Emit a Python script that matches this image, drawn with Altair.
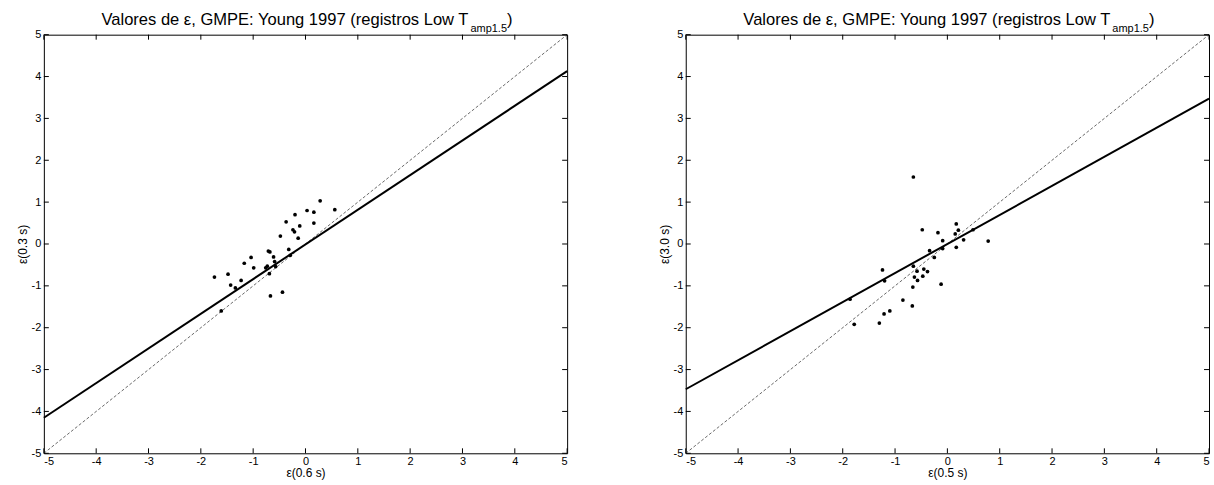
import altair as alt
import pandas as pd

# ---------------- data ----------------
left_x = [0.28, 0.56, 0.03, 0.16, -0.20, -0.37, 0.16, -0.11, -0.24, -0.21,
          -0.48, -0.14, -0.71, -0.68, -0.32, -0.29, -1.04, -0.61, -1.17, -0.59,
          -0.99, -0.73, -0.76, -0.57, -1.74, -1.48, -0.69, -1.23, -1.43, -1.34,
          -0.44, -0.67, -1.61]
left_y = [1.03, 0.82, 0.80, 0.76, 0.70, 0.53, 0.50, 0.43, 0.34, 0.29,
          0.19, 0.14, -0.17, -0.19, -0.13, -0.27, -0.32, -0.31, -0.46, -0.42,
          -0.57, -0.53, -0.57, -0.54, -0.79, -0.72, -0.71, -0.87, -0.98, -1.05,
          -1.15, -1.24, -1.60]

right_x = [-0.65, -0.48, -0.18, 0.17, 0.21, 0.15, 0.49, 0.78, -0.09, 0.31,
           -0.34, -0.09, 0.17, -0.25, -1.24, -0.65, -0.45, -0.58, -0.38, -0.63,
           -0.47, -1.20, -0.57, -0.12, -0.66, -1.86, -0.85, -0.67, -1.10, -1.21,
           -1.78, -1.30]
right_y = [1.60, 0.34, 0.27, 0.48, 0.33, 0.24, 0.34, 0.07, 0.08, 0.10,
           -0.16, -0.11, -0.08, -0.32, -0.62, -0.53, -0.60, -0.65, -0.66, -0.79,
           -0.77, -0.88, -0.87, -0.96, -1.03, -1.32, -1.34, -1.48, -1.60, -1.67,
           -1.92, -1.89]

line_x = [-5, 5]
left_fit_y = [-4.15, 4.13]
right_fit_y = [-3.47, 3.47]
one_to_one_y = [-5, 5]
tick_values = [-5, -4, -3, -2, -1, 0, 1, 2, 3, 4, 5]

title_main = "Valores de ε, GMPE: Young 1997 (registros Low T"
title_sub = "amp1.5"
title_close = ")"
left_xlabel, left_ylabel = "ε(0.6 s)", "ε(0.3 s)"
right_xlabel, right_ylabel = "ε(0.5 s)", "ε(3.0 s)"

# ---------------- styling ----------------
W, H = 525, 420
FONT = "Liberation Sans"
TFS, SFS = 16.6, 11
TICK = 5
X_T = 426  # right end of the main title text ("...Low T"), relative to plot area

_adv = {"a": .556, "m": .833, "p": .556, "1": .556, ".": .278, "5": .556}
sub_w = sum(_adv[c] for c in title_sub) * SFS

sc = alt.Scale(domain=[-5, 5], nice=False, zero=False)
LABEL_EXPR = "toString(datum.value)"


def xenc(field, title):
    return alt.X(field, type="quantitative", scale=sc,
                 axis=alt.Axis(values=tick_values, title=title, ticks=False, domain=False,
                               grid=False, labelPadding=2, titlePadding=1,
                               labelExpr=LABEL_EXPR))


def yenc(field, title):
    return alt.Y(field, type="quantitative", scale=sc,
                 axis=alt.Axis(values=tick_values, title=title, ticks=False, domain=False,
                               grid=False, labelPadding=3, titlePadding=2,
                               labelExpr=LABEL_EXPR))


def panel(xs, ys, fit_y, xlabel, ylabel):
    pts = pd.DataFrame({"x": xs, "y": ys})
    fit = pd.DataFrame({"x": line_x, "y": fit_y})
    ref = pd.DataFrame({"x": line_x, "y": one_to_one_y})
    tk = pd.DataFrame({"t": tick_values})

    ref_line = alt.Chart(ref).mark_line(color="#444444", strokeWidth=0.8,
                                        strokeDash=[3, 2]).encode(
        x=xenc("x", xlabel), y=yenc("y", ylabel))
    fit_line = alt.Chart(fit).mark_line(color="black", strokeWidth=2).encode(
        x=xenc("x", xlabel), y=yenc("y", ylabel))
    dots = alt.Chart(pts).mark_circle(color="black", size=14, opacity=1).encode(
        x=xenc("x", xlabel), y=yenc("y", ylabel))

    tb = alt.Chart(tk).mark_rule(color="black", strokeWidth=1).encode(
        x=xenc("t", xlabel), y=alt.value(H), y2=alt.value(H - TICK))
    tt = alt.Chart(tk).mark_rule(color="black", strokeWidth=1).encode(
        x=xenc("t", xlabel), y=alt.value(0), y2=alt.value(TICK))
    tl = alt.Chart(tk).mark_rule(color="black", strokeWidth=1).encode(
        y=yenc("t", ylabel), x=alt.value(0), x2=alt.value(TICK))
    tr = alt.Chart(tk).mark_rule(color="black", strokeWidth=1).encode(
        y=yenc("t", ylabel), x=alt.value(W), x2=alt.value(W - TICK))

    t1 = alt.Chart(pd.DataFrame({"s": [title_main]})).mark_text(
        align="right", baseline="alphabetic", font=FONT, fontSize=TFS, color="black").encode(
        x=alt.value(X_T), y=alt.value(-10), text="s:N")
    t2 = alt.Chart(pd.DataFrame({"s": [title_sub]})).mark_text(
        align="left", baseline="alphabetic", font=FONT, fontSize=SFS, color="black").encode(
        x=alt.value(X_T + 2), y=alt.value(-3), text="s:N")
    t3 = alt.Chart(pd.DataFrame({"s": [title_close]})).mark_text(
        align="left", baseline="alphabetic", font=FONT, fontSize=TFS, color="black").encode(
        x=alt.value(X_T + 2 + sub_w), y=alt.value(-10), text="s:N")

    return alt.layer(ref_line, fit_line, dots, tb, tt, tl, tr, t1, t2, t3).properties(
        width=W, height=H)


left = panel(left_x, left_y, left_fit_y, left_xlabel, left_ylabel)
right = panel(right_x, right_y, right_fit_y, right_xlabel, right_ylabel)

chart = alt.hconcat(left, right, spacing=119, bounds="flush").properties(
    padding={"left": 15, "top": 10, "right": 0, "bottom": 0},
    background="white",
).configure_view(stroke="black", strokeWidth=1).configure_axis(
    labelFont=FONT, labelFontSize=11, labelColor="black",
    titleFont=FONT, titleFontSize=12, titleColor="black", titleFontWeight="normal")

chart.save("out.html", embed_options={"renderer": "svg", "actions": False})
